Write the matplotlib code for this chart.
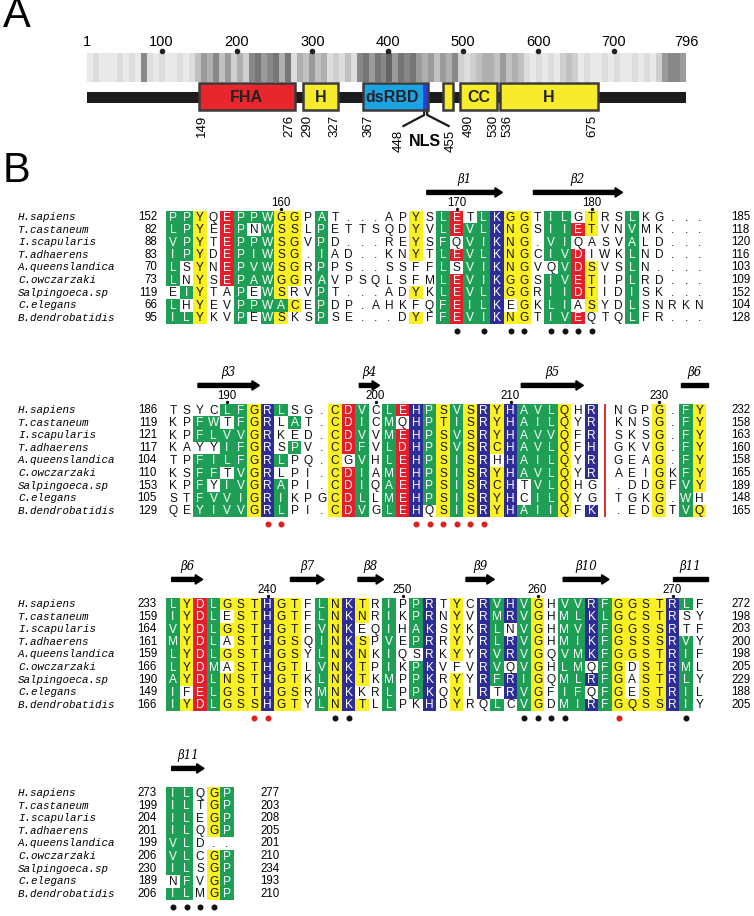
import matplotlib
matplotlib.use("Agg")
import matplotlib.pyplot as plt
from matplotlib.patches import Rectangle, FancyArrow
import matplotlib.transforms as mtransforms
import numpy as np

# ---------------- data : panel A ----------------
ruler_labels = [1, 100, 200, 300, 400, 500, 600, 700, 796]
ruler_dots = [100, 200, 300, 400, 500, 600, 700]
# conservation darkness (0-9) per 8-residue bin
conservation = ("121112121" "7" "21211212" "465746" "353" "7867858" "2" "54645"
                "23242" "78687968786" "564657" "323" "45546454" "212121" "343"
                "1211212112121" "36776")
domain_names = ["FHA", "H", "dsRBD", "", "CC", "H"]
domain_start = [149, 288, 367, 474, 496, 549]
domain_end = [277, 334, 454, 487, 545, 679]
domain_colors = ["#e8262d", "#f7ec2c", "#1ba3e6", "#f7ec2c", "#f7ec2c", "#f7ec2c"]
nls_start, nls_end = 447, 454
boundary_values = [149, 276, 290, 327, 367, 490, 530, 536, 675]
boundary_x = [154, 269, 294, 329, 375, 508, 541, 559, 672]
nls_values = [448, 455]
nls_x = [415, 484]

# ---------------- data : panel B ----------------
species = ["H.sapiens", "T.castaneum", "I.scapularis", "T.adhaerens", "A.queenslandica",
           "C.owczarzaki", "Salpingoeca.sp", "C.elegans", "B.dendrobatidis"]

seq1 = ["PPYQEPPWGGPAT...APYSLETLKGGTILGTRSLKG...",
        "LPYEEPNWSSLPETTSQDYVLEVLKNGSIIETVNVMK...",
        "VPYTEPPWSGVPD...REYSFQVIKNG.VIQASVALD...",
        "IPYDEPIWSG.IAD..KNYTLEVLKNGCIVDIWKLND...",
        "LSYNEPVWSGRPPS..SSFFLSVIKNGVQVDSVSLN....",
        "LNYSEPAWGGRAVPSQLSFMLEVIKGGSIVETIPLRD...",
        "EIYTAPEWSRVPT...ADYKLEVLKGGRIIDTIDISK...",
        "LHYEVPPWACEPDP.AHKFQFEILKEGKLIASYDLSNRKN",
        "ILYKVPEWSKSPSE...DYFFEVIKNGTIVEQTQLFR..."]
col1 = ["ggy.rgggyy.g......y.gr.gbyy.gg.y..g.....",
        "ggy.rg.gyy.g......y.grggbyy.ggry..g.....",
        "ggy.rgggyy.g......y.g.ggbyy.gg....g.....",
        "ggy.rgggyy.g......y.grggbyy.ggr...g.....",
        "g.y.rgggyy.g........g.ggbyy..gry..g.....",
        "g.y.rgggyy.g........grggbyy.ggry..g.....",
        ".gy..g.gy..g......y.grggbyy.ggry..g.....",
        "g.y..ggggy.g........grggb.y.gg.y..g.....",
        "ggy..g.gy..g......y.grggbyy.ggr...g....."]
start1 = [152, 82, 88, 83, 70, 73, 119, 66, 95]
end1 = [185, 118, 120, 116, 103, 109, 152, 104, 128]

seq2 = ["TSYCLFGRLSG.CDVCLEHPSVSRYHAVLQHR|NGPG.FY",
        "KPFWTFGRLAT.CDICMQHPTISRYHAILQYR|KNSG.FY",
        "KPFLVVGRKED.CDVVMEHPSVSRYHAVVQFR|SKSG.FY",
        "KAYYIFGRSPV.CDFVLDHPSVSRCHAVLQFH|GKVG.FY",
        "TPFILFGRLPQ.CGVHLEHPSISRHHAILQYR|GEAG.FY",
        "KSFFTVGRLPI.CDIAMEHPSISRYHAVLQYR|AEIGKFY",
        "KPFYIVGRAPI.CDIQAEHPSISRCHTVLQHG|.DDGFVY",
        "STFVVIGRIKPGCDLLMEHPSISRYHCILQYG|TGKG.WH",
        "QEYIVVGRLPI.CDVGLEHQSISRYHAIIQFK|.EDGTVQ"]
col2 = ["....ggybg...yrg.grbgygybybgggy.b|...y.gy",
        "..gg.gyb.g..yrg.g.bgygybybgggy.b|...y.gy",
        "..ggggyb....yrg.grbgygybybgggy.b|...y.gy",
        "....ggyb.g..yrg.grbgygybybgggy.b|...y.gy",
        "..ggggybg...y.g.grbgygyb.bgggy.b|...y.gy",
        "..gg.gyb....yrg.grbgygybybgggy.b|...y.gy",
        "..g.ggybg...yrg.grbgygybyb.ggy..|...y.gy",
        "..ggggybg...yrg.grbgygybyb.ggy..|...y.g.",
        "..ggggybg...yrg.grb.ygybybgggy.b|...y.gy"]
start2 = [186, 119, 121, 117, 104, 110, 153, 105, 129]
end2 = [232, 158, 163, 160, 158, 165, 189, 148, 165]

seq3 = ["LYDLGSTHGTFLNKTRIPPRTYCRVHVGHVVRFGGSTRLF",
        "IYDLESTHGTFLNKNRIKPRNYVRMRVGHMLKLGCSTRSY",
        "VYDLGSTHGTFVNKEQIHAKSYKRLNVGHMVKFGGSSRTF",
        "MYDLASTHGSQINKSPVEPRRYYRLRVGHMIKFGSSSRVY",
        "LYDLGSTHGSYLNKNKIQSRKYYRVRVGQVMKFGGSTRIF",
        "LYDMASTHGTLVNKTPIKPKVFVRVQVGHLMQFGDSTRML",
        "AYDLNSTHGTKLNKTKMPPKRYYRFRIGQMLRFGASTRLY",
        "IFELGSTHGSRMNKKRLPPKQYIRTRVGFIFQFGESTRIL",
        "IYDLGSSHGTYLNKTLLPKHDYRQLCVGDMIRFGQSSRIY"]
col3 = ["gyrgyyybyy.gyby.g.gb.y.bgbgy.ggbgyyyybg.",
        "gyrg.yybyy.gyby.g.gb.y.bgbgy.ggbgyyyyb..",
        "gyrgyyybyy.gyb..g.gb.y.bg.gy.ggbgyyyyb..",
        "gyrg.yybyy.gyby.g.gb.y.bgbgy.ggbgyyyybg.",
        "gyrgyyybyy.gyby.g..b.y.bgbgy.ggbgyyyybg.",
        "gyrg.yybyy.gyby.g.gb...bg.gy.gg.gy.yybg.",
        "gyrgyyybyy.gyby.g.gb.y.bgbgy.ggbgy.yybg.",
        "g.rgyyybyy.gyb..g.gb.y.b.bgy.gg.gy.yybg.",
        "gyrgyyybyy.gyby.g..b.y..g.gy.ggbgyyyybg."]
start3 = [233, 159, 164, 161, 159, 166, 190, 149, 166]
end3 = [272, 198, 203, 200, 198, 205, 229, 188, 205]

seq4 = ["ILQGP", "ILTGP", "ILEGP", "ILQGP", "VLD..", "VLCGP", "ILSGP", "NFVGP", "ILMGP"]
col4 = ["gg.yg", "gg.yg", "gg.yg", "gg.yg", "gg...", "gg.yg", "gg.yg", ".g.yg", "gg.yg"]
start4 = [273, 199, 204, 201, 199, 206, 230, 189, 206]
end4 = [277, 203, 208, 205, 201, 210, 234, 193, 210]

# residue-number labels above the alignment (column -> number)
numbers1 = {9: "160", 22: "170", 32: "180"}
numbers2 = {5: "190", 16: "200", 26: "210", 37: "230"}
numbers3 = {8: "240", 18: "250", 28: "260", 38: "270"}
numbers4 = {}

# secondary structure: (label, start column, end column, arrow head)
sse1 = [("β1", 19.8, 25.4, True), ("β2", 27.7, 34.3, True)]
sse2 = [("β3", 2.85, 7.4, True), ("β4", 14.8, 16.3, True), ("β5", 26.8, 31.4, True),
        ("β6", 38.6, 40.6, False)]
sse3 = [("β6", 0.9, 3.2, True), ("β7", 9.7, 12.2, True), ("β8", 14.7, 16.6, True),
        ("β9", 22.7, 24.8, True), ("β10", 29.9, 33.3, True), ("β11", 38.0, 40.6, False)]
sse4 = [("β11", 0.9, 3.3, True)]

# marked residues below the alignment
black1, red1 = [22, 24, 26, 27, 29, 30, 31, 32], []
black2, red2 = [], [8, 9, 19, 20, 21, 22, 23, 24]
black3, red3 = [13, 14, 27, 28, 29, 30, 39], [7, 8, 34]
black4, red4 = [1, 2, 3, 4], []

# ---------------- style ----------------
W, H = 754, 916
CELL = {"g": "#1f9f55", "y": "#fbf021", "r": "#e31f2b", "b": "#2e2d95"}
TXT = {"g": "white", "y": "#111111", "r": "white", "b": "white", ".": "#111111"}
NARROW = ["Liberation Sans Narrow", "Liberation Sans", "DejaVu Sans"]
SANS = ["Liberation Sans", "DejaVu Sans"]
MONO = ["Liberation Mono", "DejaVu Sans Mono"]
SERIF = ["DejaVu Serif"]

fig = plt.figure(figsize=(W / 100, H / 100), dpi=100)


def fig_box(x0, y0, x1, y1):
    return fig.add_axes([x0 / W, 1 - y1 / H, (x1 - x0) / W, (y1 - y0) / H])


# ---------------- panel A ----------------
fig.text(3 / W, 1 + 4 / H, "A", fontsize=30, va="top", ha="left", family=NARROW)
fig.text(3 / W, 1 - 151 / H, "B", fontsize=30, va="top", ha="left", family=NARROW)

# y of this axes is measured in figure pixels from the top (layout only)
axA = fig_box(87, 0, 686, 165)
cons = np.array([int(c) for c in conservation], dtype=float)[None, :]
BAND_TOP, BAND_BOT = 53, 82
BOX_TOP, BOX_BOT = 83, 110
axA.imshow(cons, cmap="Greys", vmin=-1.5, vmax=14, aspect="auto",
           extent=(1, 796, BAND_BOT, BAND_TOP), interpolation="nearest")
axA.set_xlim(1, 796)
axA.set_ylim(165, 0)
axA.axis("off")

for v in ruler_labels:
    axA.text(v, 42, str(v), ha="center", va="center", fontsize=10.5, family=NARROW)
axA.plot(ruler_dots, [50.5] * len(ruler_dots), "o", ms=3.0, color="#222222", clip_on=False)

axA.add_patch(Rectangle((1, 91.5), 795, 11, color="#1c1c1c", lw=0))
for name, s, e, c in zip(domain_names, domain_start, domain_end, domain_colors):
    axA.add_patch(Rectangle((s, BOX_TOP), e - s, BOX_BOT - BOX_TOP, fc=c, ec="none",
                            zorder=3))
    if name == "dsRBD":
        axA.add_patch(Rectangle((nls_start, BOX_TOP), nls_end - nls_start, BOX_BOT - BOX_TOP,
                                fc="#2a3fd8", ec="none", zorder=3))
    axA.add_patch(Rectangle((s, BOX_TOP), e - s, BOX_BOT - BOX_TOP, fc="none", ec="#3a3a3a",
                            lw=1.8, zorder=4))
    if name:
        axA.text((s + e) / 2 - (4 if name == "dsRBD" else 0), (BOX_TOP + BOX_BOT) / 2 + 0.5,
                 name, ha="center", va="center", fontsize=11.5, fontweight="bold",
                 family=NARROW, color="#222222", zorder=5)

for v, x in zip(boundary_values, boundary_x):
    axA.text(x, 115, str(v), rotation=90, ha="center", va="top", fontsize=9.5, family=SANS)
for v, x in zip(nls_values, nls_x):
    axA.text(x, 130, str(v), rotation=90, ha="center", va="top", fontsize=9.5, family=SANS)
axA.plot([448.5, 448.5, 421], [BOX_BOT, 115, 126], color="#1a1a1a", lw=1.6, clip_on=False)
axA.plot([452.5, 452.5, 481], [BOX_BOT, 115, 126], color="#1a1a1a", lw=1.6, clip_on=False)
axA.text(450, 142, "NLS", ha="center", va="center", fontsize=11.5, fontweight="bold",
         family=NARROW)

# ---------------- panel B ----------------
COL_LEFT = 166.25
CW = 13.5
RH = 12.6

blocks = [
    dict(row1=217, seq=seq1, col=col1, start=start1, end=end1, nums=numbers1, sse=sse1,
         black=black1, red=red1, endx=731),
    dict(row1=410, seq=seq2, col=col2, start=start2, end=end2, nums=numbers2, sse=sse2,
         black=black2, red=red2, endx=731),
    dict(row1=604, seq=seq3, col=col3, start=start3, end=end3, nums=numbers3, sse=sse3,
         black=black3, red=red3, endx=731),
    dict(row1=793, seq=seq4, col=col4, start=start4, end=end4, nums=numbers4, sse=sse4,
         black=black4, red=red4, endx=260),
]

for blk in blocks:
    y1 = blk["row1"]
    ax = fig_box(COL_LEFT, y1 - RH / 2, COL_LEFT + 40 * CW, y1 + 8.5 * RH)
    ax.set_xlim(0.5, 40.5)
    ax.set_ylim(8.5, -0.5)
    ax.axis("off")
    tr = mtransforms.blended_transform_factory(fig.transFigure, ax.transData)

    for r, (name, s_, c_, st, en) in enumerate(zip(species, blk["seq"], blk["col"],
                                                    blk["start"], blk["end"])):
        ax.text(18 / W, r, name, transform=tr, ha="left", va="center", fontsize=7.8,
                family=MONO, fontstyle="italic")
        ax.text(157 / W, r, str(st), transform=tr, ha="right", va="center", fontsize=8.3,
                family=SANS)
        ax.text(blk["endx"] / W, r, str(en), transform=tr, ha="left", va="center",
                fontsize=8.3, family=SANS)
        for i, (aa, cc) in enumerate(zip(s_, c_)):
            x = i + 1
            if cc == "|":
                continue
            if cc in CELL:
                ax.add_patch(Rectangle((x - 0.5, r - 0.5), 1, 1, fc=CELL[cc], ec="none"))
            ax.text(x, r + 0.04, aa, ha="center", va="center", fontsize=8.6, family=SANS,
                    color=TXT[cc])

    # red break line
    for i, cc in enumerate(blk["col"][0]):
        if cc == "|":
            ax.plot([i + 1, i + 1], [-0.5, 8.5], color="#d9302f", lw=1.4)

    # numbering above
    for cidx, lab in blk["nums"].items():
        ax.text(cidx, -1.15, lab, ha="center", va="center", fontsize=8.3, family=SANS,
                clip_on=False)
        ax.plot([cidx], [-0.62], marker="o", ms=1.4, color="#111111", clip_on=False)

    # secondary structure
    for lab, a, b, head in blk["sse"]:
        yy = -1.95
        if head:
            ar = FancyArrow(a, yy, b - a, 0, width=0.32, head_width=0.75, head_length=0.55,
                            length_includes_head=True, color="black", clip_on=False)
            ax.add_patch(ar)
        else:
            ax.add_patch(Rectangle((a, yy - 0.16), b - a, 0.32, color="black", clip_on=False))
        ax.text((a + b) / 2, -2.95, lab, ha="center", va="center", fontsize=8.5,
                family=SERIF, fontstyle="italic", clip_on=False)

    # marked residues
    if blk["black"]:
        ax.plot(blk["black"], [9.05] * len(blk["black"]), "o", ms=3.3, color="#111111",
                clip_on=False)
    if blk["red"]:
        ax.plot(blk["red"], [9.05] * len(blk["red"]), "o", ms=3.3, color="#e0201f",
                clip_on=False)

fig.savefig("out.png", dpi=100)
